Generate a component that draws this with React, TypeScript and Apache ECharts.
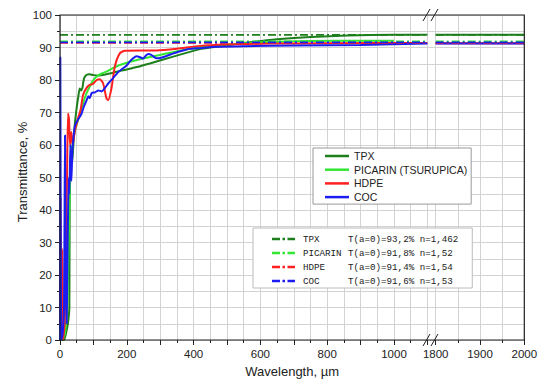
import React, { useEffect, useRef } from "react";
import * as echarts from "echarts";

// ---------- DATA ----------
const tpxWavelength = [4, 12, 20, 25, 28, 29, 31, 33, 35, 37, 40, 44, 50, 55, 59, 63, 67, 72, 80, 89, 100, 119, 149, 189, 230, 269, 339, 419, 500, 628, 750, 860, 1000, 1100];
const tpxTransmittance = [0, 0, 3, 6, 10, 45, 52, 56, 59.5, 55, 60, 66, 71.5, 75, 77.4, 76.8, 77.5, 80.5, 81.6, 81.8, 81.5, 81.4, 82, 83, 84, 85.1, 87.2, 89.5, 90.7, 92.3, 93.2, 93.7, 93.9, 93.9];

const picarinWavelength = [8, 15, 20, 24, 27, 30, 33, 36, 39, 45, 54, 62, 69, 79, 89, 99, 109, 125, 139, 160, 179, 210, 239, 270, 299, 330, 359, 390, 419, 500, 628, 750, 900, 1000];
const picarinTransmittance = [0, 2, 8, 20, 35, 48, 55, 58, 61.5, 64.5, 67.7, 70.5, 72.8, 75.8, 78, 79.8, 81, 82, 82.6, 83.7, 84.6, 85.6, 86.4, 87.1, 87.7, 88.4, 89, 89.6, 90.1, 90.9, 91.7, 92, 92.1, 92.1];

const hdpeWavelength = [0, 2, 4, 7, 9, 14, 18, 21, 24, 27, 30, 34, 38, 44, 49, 55, 62, 69, 79, 89, 99, 110, 119, 129, 139, 144, 154, 164, 179, 194, 240, 289, 350, 419, 500, 628, 800, 1100];
const hdpeTransmittance = [0, 44, 10, 28, 0, 5, 30, 50, 69.7, 68, 60, 64, 60, 64, 66.2, 68.5, 71, 75.4, 77.5, 78.5, 78.8, 80, 80.2, 79, 74.4, 73.8, 77.4, 84.1, 88.2, 89, 89.1, 89.1, 89.6, 90.5, 90.9, 91.2, 91.3, 91.4];

const cocWavelength = [0, 1, 2, 4, 8, 12, 15, 17, 20, 23, 26, 28, 31, 34, 37, 40, 45, 55, 64, 72, 79, 85, 89, 95, 105, 115, 125, 135, 145, 159, 175, 189, 200, 210, 219, 229, 240, 249, 258, 264, 272, 280, 289, 300, 319, 340, 379, 420, 469, 550, 700, 900, 1100];
const cocTransmittance = [0, 87, 40, 0, 2, 10, 63, 20, 5, 30, 50, 45, 60, 49, 58, 62, 66, 68, 69.5, 72, 73.6, 75, 74.4, 76, 76.2, 76.8, 76.5, 77.6, 79, 80.6, 82.5, 83.6, 84.5, 85.8, 86.7, 87.3, 87, 86.6, 87.6, 88, 87.8, 87.2, 86.7, 86.8, 87.4, 88.2, 89.4, 89.8, 90.2, 90.4, 90.6, 90.8, 91.2];

// right segment (after axis break)
const rightWavelength = [1800, 2000];
const tpxRight = [93.9, 93.9];
const hdpeRight = [91.3, 91.3];
const cocRight = [91.2, 91.2];

// T(a=0) levels (dash-dot lines)
const levelNames = ["TPX", "PICARIN", "HDPE", "COC"];
const levelValues = [93.9, 91.9, 91.4, 91.6];
const levelLabels = ["T(a=0)=93,2% n=1,462", "T(a=0)=91,8% n=1,52", "T(a=0)=91,4% n=1,54", "T(a=0)=91,6% n=1,53"];

const solidNames = ["TPX", "PICARIN (TSURUPICA)", "HDPE", "COC"];
const colors = ["#1c7f1c", "#33e633", "#ff2020", "#1c1cf0"];

const leftRange = [0, 1100];
const rightRange = [1800, 2000];
const xLeftTicks = { interval: 100, labelEvery: 200 };
const xRightTicks = { interval: 100, labelEvery: 100 };

// ---------- LAYOUT ----------
const W = 547;
const H = 379;
const PLOT_LEFT = 60;
const PLOT_TOP = 15;
const PLOT_BOTTOM = 340;
const BREAK_LEFT = 427.4;
const BREAK_RIGHT = 435.7;
const PLOT_RIGHT = 524.3;
const GRID_C = "#d3d3d3";
const AX_C = "#222";
const SANS = "Liberation Sans, Arial, sans-serif";
const MONO = "Liberation Mono, Courier New, monospace";

function zip(x: number[], y: number[]) {
  return x.map((v, i) => [v, y[i]]);
}

export default function App() {
  const ref = useRef<HTMLDivElement>(null);

  useEffect(() => {
    if (!ref.current) return;
    const chart = echarts.init(ref.current, null, { renderer: "svg" });
    const plotH = PLOT_BOTTOM - PLOT_TOP;

    const grids = [
      { left: PLOT_LEFT, top: PLOT_TOP, width: BREAK_LEFT - PLOT_LEFT, height: plotH },
      { left: BREAK_RIGHT, top: PLOT_TOP, width: PLOT_RIGHT - BREAK_RIGHT, height: plotH },
      { left: BREAK_LEFT, top: PLOT_TOP, width: BREAK_RIGHT - BREAK_LEFT, height: plotH },
    ];

    const tickCommon = {
      axisLine: { show: false },
      axisTick: { show: true, inside: false, length: 5, lineStyle: { color: AX_C } },
      minorTick: { show: true, splitNumber: 2, length: 3, lineStyle: { color: AX_C } },
      splitLine: { show: true, lineStyle: { color: GRID_C, width: 1 } },
      minorSplitLine: { show: true, lineStyle: { color: GRID_C, width: 1 } },
    };
    const noTicks = {
      axisTick: { show: false },
      minorTick: { show: false, splitNumber: 2 },
      axisLabel: { show: false },
    };

    const xAxes = [
      {
        gridIndex: 0, type: "value", min: leftRange[0], max: leftRange[1], interval: xLeftTicks.interval,
        ...tickCommon,
        axisLabel: {
          margin: 8, fontSize: 11.5, color: AX_C, fontFamily: SANS,
          formatter: (v: number) => (v % xLeftTicks.labelEvery === 0 && v < 1100 ? String(v) : ""),
        },
      },
      {
        gridIndex: 1, type: "value", min: rightRange[0], max: rightRange[1], interval: xRightTicks.interval,
        ...tickCommon,
        axisLabel: {
          margin: 8, fontSize: 11.5, color: AX_C, fontFamily: SANS, showMinLabel: true, showMaxLabel: true,
          formatter: (v: number) => (v % xRightTicks.labelEvery === 0 ? String(v) : ""),
        },
      },
      { gridIndex: 2, type: "value", min: 0, max: 1, show: false },
    ];

    const yAxes = [
      {
        gridIndex: 0, type: "value", min: 0, max: 100, interval: 10,
        ...tickCommon,
        axisLabel: { margin: 8, fontSize: 11.5, color: AX_C, fontFamily: SANS },
      },
      { gridIndex: 1, type: "value", min: 0, max: 100, interval: 10, ...tickCommon, ...noTicks },
      { gridIndex: 2, type: "value", min: 0, max: 100, interval: 10, ...tickCommon, ...noTicks },
    ];

    const solidLeft = [
      zip(tpxWavelength, tpxTransmittance),
      zip(picarinWavelength, picarinTransmittance),
      zip(hdpeWavelength, hdpeTransmittance),
      zip(cocWavelength, cocTransmittance),
    ];
    const solidRight = [zip(rightWavelength, tpxRight), null, zip(rightWavelength, hdpeRight), zip(rightWavelength, cocRight)];

    const series: any[] = [];
    solidNames.forEach((name, i) => {
      series.push({
        type: "line", name, xAxisIndex: 0, yAxisIndex: 0, data: solidLeft[i],
        showSymbol: false, symbol: "none", smooth: 0.2,
        lineStyle: { color: colors[i], width: 2 }, itemStyle: { color: colors[i] },
      });
      if (solidRight[i]) {
        series.push({
          type: "line", name, xAxisIndex: 1, yAxisIndex: 1, data: solidRight[i],
          showSymbol: false, symbol: "none",
          lineStyle: { color: colors[i], width: 2 }, itemStyle: { color: colors[i] },
        });
      }
    });
    const dashNames = levelNames.map((n, i) => n + " " + levelLabels[i]);
    levelValues.forEach((v, i) => {
      const common = {
        type: "line", name: dashNames[i], showSymbol: false, symbol: "none",
        lineStyle: { color: colors[i], width: 1.7, type: [8, 3, 2, 3] }, itemStyle: { color: colors[i] },
      };
      series.push({ ...common, xAxisIndex: 0, yAxisIndex: 0, data: [[leftRange[0], v], [leftRange[1], v]] });
      series.push({ ...common, xAxisIndex: 1, yAxisIndex: 1, data: [[rightRange[0], v], [rightRange[1], v]] });
    });

    const breakMark = (yc: number) => [
      { type: "line", shape: { x1: 423, y1: yc + 6, x2: 430, y2: yc - 6 }, style: { stroke: AX_C, lineWidth: 1 }, z: 20 },
      { type: "line", shape: { x1: 431, y1: yc + 6, x2: 438, y2: yc - 6 }, style: { stroke: AX_C, lineWidth: 1 }, z: 20 },
    ];

    const option: any = {
      animation: false,
      backgroundColor: "#fff",
      grid: grids,
      xAxis: xAxes,
      yAxis: yAxes,
      series,
      legend: [
        {
          data: solidNames, left: 313, top: 148, orient: "vertical", icon: "rect",
          itemWidth: 24, itemHeight: 2.5, itemGap: 1.7, selectedMode: false,
          backgroundColor: "#fff", borderColor: "#999", borderWidth: 1, borderRadius: 0,
          padding: [2, 4, 1, 12],
          textStyle: { fontSize: 10.5, fontFamily: SANS, color: AX_C, lineHeight: 12 },
        },
        {
          data: dashNames, left: 253, top: 228, orient: "vertical",
          icon: "path://M0,0H8V2H0Z M10.5,0H13V2H10.5Z M15.5,0H23V2H15.5Z",
          symbolKeepAspect: false,
          itemWidth: 23, itemHeight: 2.5, itemGap: 2, selectedMode: false,
          backgroundColor: "#fff", borderColor: "#bbb", borderWidth: 1, borderRadius: 0,
          padding: [5, 14, 1, 19],
          formatter: (name: string) => {
            const k = name.indexOf(" ");
            return "{a|" + name.slice(0, k) + "}{b|" + name.slice(k + 1) + "}";
          },
          textStyle: {
            fontSize: 9.2, fontFamily: MONO, color: AX_C, lineHeight: 12,
            rich: {
              a: { fontSize: 9.2, fontFamily: MONO, color: AX_C, width: 45, padding: [0, 0, 0, 3] },
              b: { fontSize: 9.2, fontFamily: MONO, color: AX_C },
            },
          },
        },
      ],
      graphic: [
        {
          type: "rect", z: 15,
          shape: { x: PLOT_LEFT, y: PLOT_TOP, width: PLOT_RIGHT - PLOT_LEFT, height: plotH },
          style: { fill: "none", stroke: AX_C, lineWidth: 1.2 },
        },
        ...breakMark(PLOT_TOP),
        ...breakMark(PLOT_BOTTOM),
        {
          type: "text", x: (PLOT_LEFT + PLOT_RIGHT) / 2, y: 371,
          style: { text: "Wavelength, µm", fontSize: 13, fontFamily: SANS, fill: AX_C, align: "center", verticalAlign: "middle" },
        },
        {
          type: "text", x: 22, y: 172, rotation: Math.PI / 2,
          style: { text: "Transmittance, %", fontSize: 13, fontFamily: SANS, fill: AX_C, align: "center", verticalAlign: "middle" },
        },
      ],
    };

    chart.setOption(option);
    return () => chart.dispose();
  }, []);

  return (
    <div
      ref={ref}
      style={{ position: "fixed", left: 0, top: 0, width: W, height: H, background: "#fff" }}
    />
  );
}
